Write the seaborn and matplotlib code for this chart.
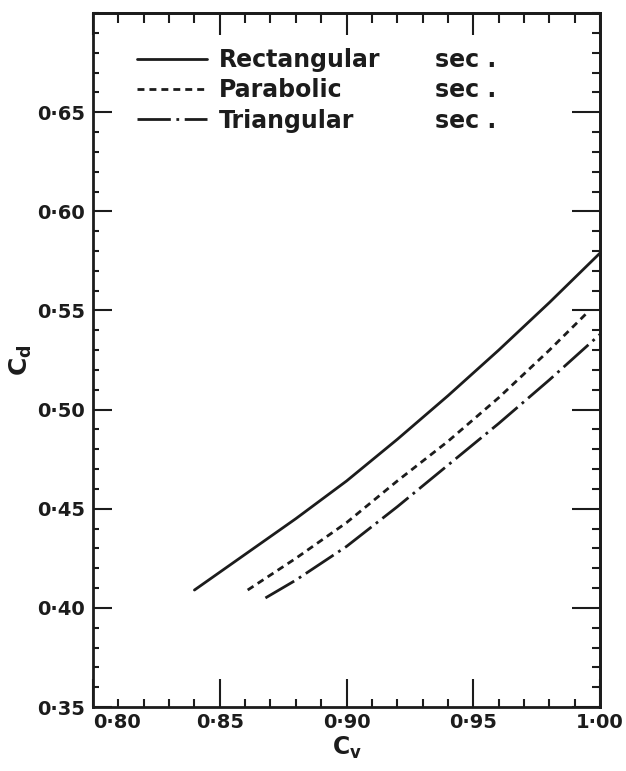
import matplotlib
matplotlib.use("Agg")
import matplotlib.pyplot as plt
import numpy as np
import pandas as pd
import seaborn as sns
from matplotlib.ticker import FixedLocator, MultipleLocator, FuncFormatter

# ---- data ----
section_names = ["Rectangular", "Parabolic", "Triangular"]
rect_cv = [0.84, 0.86, 0.88, 0.90, 0.92, 0.94, 0.96, 0.98, 1.00]
rect_cd = [0.409, 0.427, 0.445, 0.464, 0.485, 0.507, 0.530, 0.554, 0.579]
para_cv = [0.861, 0.88, 0.90, 0.92, 0.94, 0.96, 0.98, 0.995]
para_cd = [0.409, 0.425, 0.443, 0.464, 0.484, 0.506, 0.530, 0.549]
tri_cv = [0.868, 0.88, 0.90, 0.92, 0.94, 0.96, 0.98, 1.00]
tri_cd = [0.405, 0.414, 0.431, 0.451, 0.472, 0.493, 0.515, 0.538]
x_ticks = [0.80, 0.85, 0.90, 0.95, 1.00]
y_ticks = [0.35, 0.40, 0.45, 0.50, 0.55, 0.60, 0.65]
suffix = "sec ."

df = pd.concat([
    pd.DataFrame({"cv": rect_cv, "cd": rect_cd, "section": section_names[0]}),
    pd.DataFrame({"cv": para_cv, "cd": para_cd, "section": section_names[1]}),
    pd.DataFrame({"cv": tri_cv, "cd": tri_cd, "section": section_names[2]}),
], ignore_index=True)

sns.set_style("ticks")
plt.rcParams["font.family"] = ["DejaVu Sans"]
plt.rcParams["mathtext.fontset"] = "dejavusans"

ink = "#1c1c1c"
fig = plt.figure(figsize=(6.26, 7.71), dpi=100)
ax = fig.add_axes([0.1486, 0.0830, 0.81, 0.9000])

sns.lineplot(data=df, x="cv", y="cd", style="section", style_order=section_names,
             dashes={section_names[0]: "", section_names[1]: (2.5, 1.8),
                     section_names[2]: (12, 2, 1, 2)},
             color=ink, linewidth=2.0, estimator=None, sort=False,
             legend=False, ax=ax)

ax.set_xlim(0.80, 1.00)
ax.set_ylim(0.35, 0.70)

fmt = FuncFormatter(lambda v, p: f"{v:.2f}".replace(".", "\u00b7"))
ax.xaxis.set_major_locator(FixedLocator(x_ticks))
ax.xaxis.set_minor_locator(MultipleLocator(0.01))
ax.yaxis.set_major_locator(FixedLocator(y_ticks))
ax.yaxis.set_minor_locator(MultipleLocator(0.01))
ax.xaxis.set_major_formatter(fmt)
ax.yaxis.set_major_formatter(fmt)

ax.tick_params(axis="x", which="major", direction="in", length=20, width=1.5,
               color=ink, pad=4, labelsize=14, labelcolor=ink)
ax.tick_params(axis="x", which="minor", direction="in", length=6, width=1.5, color=ink)
ax.tick_params(axis="y", which="major", direction="in", length=14, width=1.5,
               color=ink, pad=6, labelsize=14, labelcolor=ink)
ax.tick_params(axis="y", which="minor", direction="in", length=4.5, width=1.5, color=ink)
for lab in ax.get_xticklabels() + ax.get_yticklabels():
    lab.set_fontweight("bold")

for s in ax.spines.values():
    s.set_linewidth(2.0)
    s.set_color(ink)

# top and right ticks (different lengths)
secx = ax.secondary_xaxis("top")
secx.xaxis.set_major_locator(FixedLocator(x_ticks))
secx.xaxis.set_minor_locator(MultipleLocator(0.01))
secx.tick_params(axis="x", which="major", direction="in", length=16, width=1.5,
                 color=ink, labeltop=False)
secx.tick_params(axis="x", which="minor", direction="in", length=7, width=1.5, color=ink)
secx.spines["top"].set_linewidth(2.0)
secx.spines["top"].set_color(ink)

secy = ax.secondary_yaxis("right")
secy.yaxis.set_major_locator(FixedLocator(y_ticks))
secy.yaxis.set_minor_locator(MultipleLocator(0.01))
secy.tick_params(axis="y", which="major", direction="in", length=20, width=1.5,
                 color=ink, labelright=False)
secy.tick_params(axis="y", which="minor", direction="in", length=6, width=1.5, color=ink)
secy.spines["right"].set_linewidth(2.0)
secy.spines["right"].set_color(ink)

ax.set_xlabel(r"$\mathbf{C_v}$", fontsize=17, color=ink, labelpad=2)
ax.set_ylabel(r"$\mathbf{C_d}$", fontsize=18, color=ink, labelpad=2)

# legend
handles = ax.get_lines()[:3]
leg = ax.legend(handles, section_names, loc="upper left",
                bbox_to_anchor=(0.0868, 0.950), frameon=False,
                fontsize=17, handlelength=2.97, handletextpad=0.5,
                labelspacing=0.27, borderpad=0, borderaxespad=0)
for t in leg.get_texts():
    t.set_fontweight("bold")
    t.set_color(ink)

fig.canvas.draw()
xt = ax.get_xticklabels()
if xt:
    xt[0].set_horizontalalignment("left")
inv = ax.transAxes.inverted()
for t in leg.get_texts():
    bb = t.get_window_extent()
    yc = inv.transform(((bb.x0 + bb.x1) / 2, (bb.y0 + bb.y1) / 2))[1]
    ax.text(0.675, yc, suffix, transform=ax.transAxes, fontsize=17,
            fontweight="bold", color=ink, va="center", ha="left")

fig.savefig("out.png", dpi=100, facecolor="white")
